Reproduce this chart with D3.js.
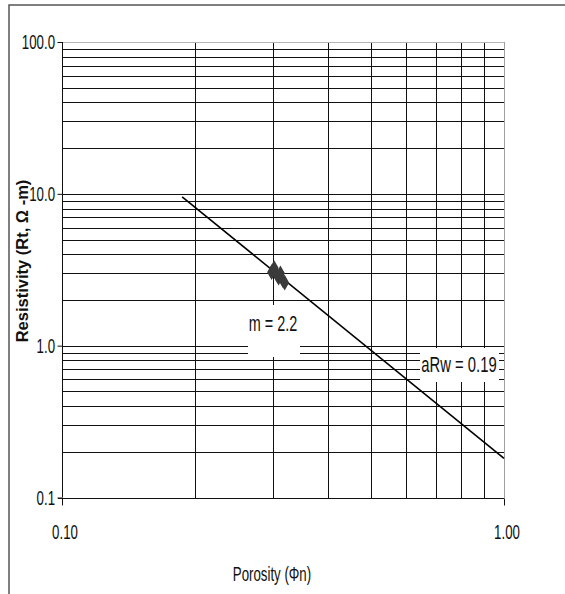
<!DOCTYPE html>
<html>
<head>
<meta charset="utf-8">
<script src="https://cdn.jsdelivr.net/npm/d3@7/dist/d3.min.js"></script>
<style>
  html, body { margin: 0; padding: 0; background: #fff; }
  svg { display: block; }
</style>
</head>
<body>
<div id="chart"></div>
<script>
// measured samples (porosity vs deep resistivity)
const porosity = [0.298, 0.302, 0.306, 0.309, 0.312, 0.316, 0.319];
const resistivity = [3.05, 3.25, 2.95, 2.80, 3.00, 2.70, 2.60];

// fitted trend line end points
const trendX = [0.187, 1.0];
const trendY = [9.55, 0.181];

// axis ticks
const xTicks = [0.1, 1.0];
const xTickLabels = ['0.10', '1.00'];
const yTicks = [0.1, 1, 10, 100];
const yTickLabels = ['0.1', '1.0', '10.0', '100.0'];

const width = 565, height = 594;
const plot = { left: 62, right: 504, top: 42, bottom: 497.5 };
const FONT = '"Liberation Sans", Arial, sans-serif';

const svg = d3.select('#chart').append('svg')
  .attr('width', width)
  .attr('height', height);

// condensed, slightly tall text like the original export
function narrowText(parent, tx, ty, str, anchor, size) {
  return parent.append('g')
    .attr('transform', `translate(${tx},${ty}) scale(0.78,1.15)`)
    .append('text')
    .attr('text-anchor', anchor)
    .attr('dominant-baseline', 'central')
    .attr('font-family', FONT)
    .attr('font-size', size)
    .attr('fill', '#111')
    .text(str);
}

// outer chart frame
svg.append('rect')
  .attr('x', 9).attr('y', 5)
  .attr('width', 600).attr('height', 650)
  .attr('fill', 'none')
  .attr('stroke', '#555')
  .attr('stroke-width', 1.5);

const x = d3.scaleLog().domain([0.1, 1]).range([plot.left, plot.right]);
const y = d3.scaleLog().domain([0.1, 100]).range([plot.bottom, plot.top]);

// minor grid values: 1..9 of each decade
const yGrid = [];
[0.1, 1, 10].forEach(dec => d3.range(1, 10).forEach(k => yGrid.push(+(k * dec).toPrecision(3))));
const xGrid = d3.range(2, 10).map(k => k / 10);

const grid = svg.append('g').attr('shape-rendering', 'crispEdges');

grid.selectAll('.hgrid')
  .data(yGrid.filter(v => v > 0.1))
  .enter().append('line')
  .attr('x1', plot.left).attr('x2', plot.right)
  .attr('y1', d => Math.round(y(d)) + 0.5)
  .attr('y2', d => Math.round(y(d)) + 0.5)
  .attr('stroke', '#111');

grid.selectAll('.vgrid')
  .data(xGrid)
  .enter().append('line')
  .attr('x1', d => Math.round(x(d)) + 0.5)
  .attr('x2', d => Math.round(x(d)) + 0.5)
  .attr('y1', plot.top).attr('y2', plot.bottom)
  .attr('stroke', '#111');

// plot area top / right edges are light
grid.append('line')
  .attr('x1', plot.left).attr('x2', plot.right)
  .attr('y1', Math.round(y(100)) + 0.5).attr('y2', Math.round(y(100)) + 0.5)
  .attr('stroke', '#b5b5b5');
grid.append('line')
  .attr('x1', Math.round(x(1)) + 0.5).attr('x2', Math.round(x(1)) + 0.5)
  .attr('y1', plot.top).attr('y2', plot.bottom)
  .attr('stroke', '#a0a0a0');

// axes (lines and ticks from d3, labels drawn condensed)
const gy = svg.append('g')
  .attr('transform', `translate(${Math.round(plot.left) + 0.5},0)`)
  .call(d3.axisLeft(y).tickValues(yTicks).tickSize(5).tickFormat(''));
gy.selectAll('line').attr('stroke', '#111');
gy.select('.domain').attr('stroke', '#111').attr('d', `M0,${plot.top}V${plot.bottom}`);
yTicks.forEach((v, i) => narrowText(svg, plot.left - 7, y(v) + 1, yTickLabels[i], 'end', 17));

const gx = svg.append('g')
  .attr('transform', `translate(0,${Math.round(plot.bottom) + 0.5})`)
  .call(d3.axisBottom(x).tickValues(xTicks).tickSize(7).tickFormat(''));
gx.selectAll('line').attr('stroke', '#111');
gx.select('.domain').attr('stroke', '#111').attr('d', `M${plot.left - 4},0H${plot.right}`);
xTicks.forEach((v, i) => narrowText(svg, x(v) + 3, 533, xTickLabels[i], 'middle', 17));

// label boxes hide the grid behind them
svg.append('rect')
  .attr('x', 248).attr('y', 305).attr('width', 52).attr('height', 52)
  .attr('fill', '#fff');
narrowText(svg, 273, 324, 'm = 2.2', 'middle', 18.5);

svg.append('rect')
  .attr('x', 420).attr('y', 348).attr('width', 79).attr('height', 34)
  .attr('fill', '#fff');
narrowText(svg, 459, 364, 'aRw = 0.19', 'middle', 19);

// trend line
const trend = trendX.map((v, i) => ({ x: v, y: trendY[i] }));
svg.append('path')
  .datum(trend)
  .attr('fill', 'none')
  .attr('stroke', '#000')
  .attr('stroke-width', 1.6)
  .attr('d', d3.line().x(d => x(d.x)).y(d => y(d.y)));

// sample markers
svg.selectAll('.pt')
  .data(porosity.map((v, i) => ({ x: v, y: resistivity[i] })))
  .enter().append('path')
  .attr('transform', d => `translate(${x(d.x)},${y(d.y)})`)
  .attr('d', d3.symbol().type(d3.symbolDiamond).size(70))
  .attr('fill', '#3a3a3a');

// axis titles
narrowText(svg, 272, 575, 'Porosity (Φn)', 'middle', 17);

svg.append('text')
  .attr('transform', 'translate(28,261) rotate(-90)')
  .attr('text-anchor', 'middle')
  .attr('font-family', FONT)
  .attr('font-weight', 'bold')
  .attr('font-size', 16.5)
  .attr('fill', '#111')
  .text('Resistivity (Rt, Ω -m)');
</script>
</body>
</html>
